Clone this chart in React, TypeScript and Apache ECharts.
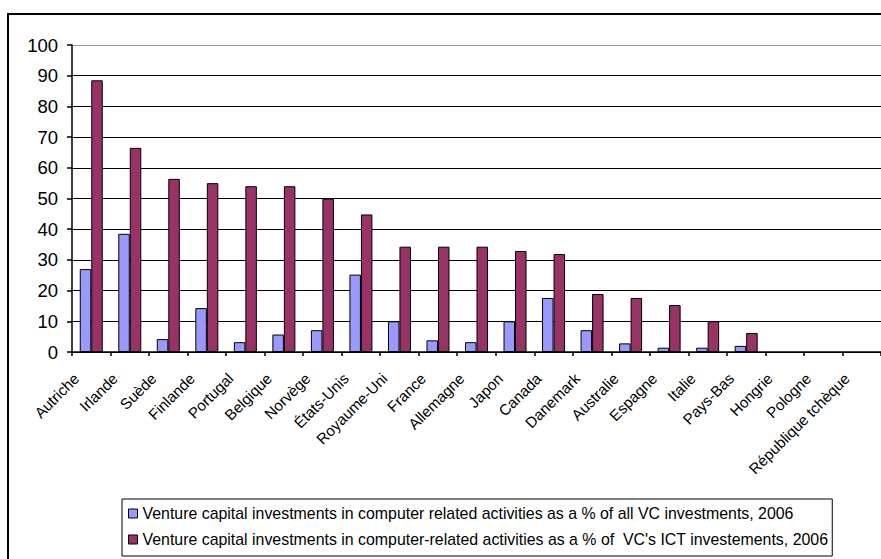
import React, { useEffect, useRef } from "react";
import * as echarts from "echarts";

const categories = [
  "Autriche", "Irlande", "Suède", "Finlande", "Portugal", "Belgique", "Norvège",
  "États-Unis", "Royaume-Uni", "France", "Allemagne", "Japon", "Canada", "Danemark",
  "Australie", "Espagne", "Italie", "Pays-Bas", "Hongrie", "Pologne", "République tchèque",
];
const seriesAllVC = [
  27.0, 38.5, 4.2, 14.3, 3.2, 5.7, 7.1, 25.2, 10.0, 3.8, 3.2, 10.0, 17.6, 7.1,
  2.8, 1.4, 1.4, 2.0, null, null, null,
];
const seriesICT = [
  88.5, 66.5, 56.4, 55.0, 54.0, 54.0, 50.0, 44.8, 34.3, 34.3, 34.3, 32.9, 31.9, 18.9,
  17.6, 15.3, 10.0, 6.2, null, null, null,
];
const seriesNames = [
  "Venture capital investments in computer related activities as a % of all VC investments, 2006",
  "Venture capital investments in computer-related activities as a % of  VC's ICT investements, 2006",
];
const yTicks = { min: 0, max: 100, interval: 10 };

const FONT = "'Liberation Sans', Arial, sans-serif";

export default function App() {
  const ref = useRef<HTMLDivElement>(null);
  useEffect(() => {
    if (!ref.current) return;
    const chart = echarts.init(ref.current, null, { renderer: "svg" });
    const splitColors = Array.from({ length: 11 }, (_, i) => (i === 10 ? "#999" : "#000"));
    chart.setOption({
      animation: false,
      backgroundColor: "#fff",
      textStyle: { fontFamily: FONT },
      grid: { left: 72, right: -6, top: 45, bottom: 207, containLabel: false },
      graphic: [
        {
          type: "rect",
          shape: { x: 8, y: 14, width: 1000, height: 700 },
          style: { fill: "none", stroke: "#000", lineWidth: 2 },
          silent: true,
          z: -1,
        },
      ],
      legend: {
        orient: "vertical",
        left: 122,
        top: 499,
        padding: [6, 4, 8, 6],
        itemWidth: 9,
        itemHeight: 9,
        itemGap: 9,
        icon: "rect",
        borderColor: "#000",
        borderWidth: 1,
        itemStyle: { borderColor: "#000", borderWidth: 1 },
        textStyle: { fontSize: 15.9, fontFamily: FONT, color: "#000", lineHeight: 17 },
        data: seriesNames,
      },
      xAxis: {
        type: "category",
        data: categories,
        boundaryGap: true,
        axisLine: { lineStyle: { color: "#000", width: 1.5 } },
        axisTick: { show: true, length: 4, lineStyle: { color: "#000", width: 1.5 } },
        axisLabel: {
          interval: 0,
          rotate: 45,
          margin: 9,
          padding: [0, 21, 0, 0],
          fontSize: 15.2,
          fontFamily: FONT,
          color: "#000",
        },
      },
      yAxis: {
        type: "value",
        min: yTicks.min,
        max: yTicks.max,
        interval: yTicks.interval,
        axisLine: { show: true, lineStyle: { color: "#000", width: 1.5 } },
        axisTick: { show: true, length: 5, lineStyle: { color: "#000", width: 1.5 } },
        axisLabel: { margin: 14, fontSize: 18.5, fontFamily: FONT, color: "#000" },
        splitLine: { show: true, lineStyle: { color: splitColors, width: 1.2 } },
      },
      series: [
        {
          name: seriesNames[0],
          type: "bar",
          data: seriesAllVC,
          barWidth: 11.5,
          barGap: "0%",
          itemStyle: { color: "#9999FF", borderColor: "#000", borderWidth: 1 },
        },
        {
          name: seriesNames[1],
          type: "bar",
          data: seriesICT,
          barWidth: 11.5,
          barGap: "0%",
          itemStyle: { color: "#993366", borderColor: "#000", borderWidth: 1 },
        },
      ],
    });
    return () => chart.dispose();
  }, []);
  return (
    <div
      ref={ref}
      style={{ position: "fixed", left: 0, top: 0, width: 881, height: 559, overflow: "hidden" }}
    />
  );
}
